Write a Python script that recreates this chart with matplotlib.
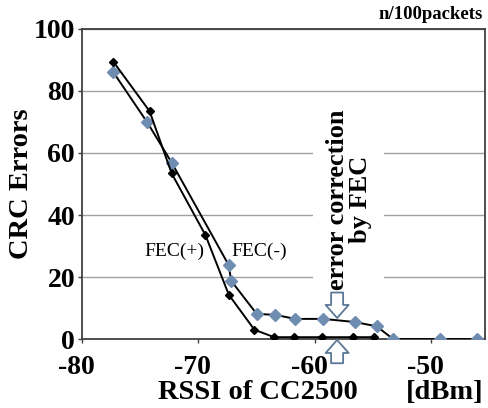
import matplotlib
matplotlib.use('Agg')
import matplotlib.pyplot as plt
from matplotlib.transforms import ScaledTranslation

# FEC(+) : black diamonds
rssi_fec_on = [-77.3, -74.2, -72.3, -69.4, -67.4, -65.2, -63.5, -61.8, -59.4, -56.7, -54.9]
err_fec_on = [89.4, 73.5, 53.4, 33.5, 14.3, 3.0, 0.6, 0.6, 0.6, 0.6, 0.6]

# FEC(-) : blue-grey diamonds
rssi_fec_off = [-77.3, -74.4, -72.3, -67.4, -67.2, -65.0, -63.4, -61.7, -59.3, -56.6, -54.7, -53.3, -49.3, -46.1]
err_fec_off = [86.0, 69.9, 56.9, 23.8, 18.8, 8.1, 7.8, 6.5, 6.5, 5.5, 4.1, 0.0, 0.0, 0.0]

xticks = [-80, -70, -60, -50]
yticks = [0, 20, 40, 60, 80, 100]

plt.rcParams['font.family'] = ['Liberation Serif', 'DejaVu Serif']

fig = plt.figure(figsize=(4.88, 4.08), dpi=100)
ax = fig.add_axes([0.168, 0.169, 0.826, 0.760])

blue = '#6e8db0'
ax.plot(rssi_fec_off, err_fec_off, '-', color='black', lw=1.4, zorder=3)
ax.plot(rssi_fec_off, err_fec_off, 'D', color=blue, ms=6.5, zorder=4)
ax.plot(rssi_fec_on, err_fec_on, '-D', color='black', lw=1.4, ms=4.5, zorder=5)

ax.set_xlim(-80, -45.4)
ax.set_ylim(0, 100)
ax.set_xticks(xticks)
ax.set_yticks(yticks)
ax.set_xticklabels([str(t) for t in xticks])
ax.yaxis.grid(True, color='#a0a0a0', lw=1)
ax.set_axisbelow(True)
for s in ax.spines.values():
    s.set_color('#404040')
    s.set_linewidth(1.3)
ax.tick_params(axis='both', labelsize=20, length=3, width=1, color='#404040')
ax.tick_params(axis='y', pad=2)
ax.tick_params(axis='x', pad=8.5)
shift = ScaledTranslation(-6 / 100, 0, fig.dpi_scale_trans)
for lab in ax.get_xticklabels():
    lab.set_fontweight('bold')
    lab.set_transform(lab.get_transform() + shift)
for lab in ax.get_yticklabels():
    lab.set_fontweight('bold')

ax.set_ylabel('CRC Errors', fontsize=20.5, fontweight='bold', labelpad=0)
fig.text(0.528, 0.037, 'RSSI of CC2500', fontsize=20.5, fontweight='bold', ha='center', va='center')
fig.text(0.99, 0.037, '[dBm]', fontsize=20.5, fontweight='bold', ha='right', va='center')
fig.text(0.99, 0.965, 'n/100packets', fontsize=13.5, fontweight='bold', ha='right', va='center')

ax.text(-72.1, 28.3, 'FEC(+)', fontsize=14, ha='center', va='center', zorder=6)
ax.text(-64.8, 28.3, 'FEC(-)', fontsize=14, ha='center', va='center', zorder=6)

ax.text(-57.1, 45, 'error correction\nby FEC', rotation=90, fontsize=19, fontweight='bold',
        ha='center', va='center', linespacing=1.0, zorder=6,
        bbox=dict(facecolor='white', edgecolor='none', pad=9))

arrow = dict(arrowstyle='simple,head_width=2.3,head_length=1.3,tail_width=1.2',
             fc='white', ec='#5a7896', lw=1.3, mutation_scale=7.2, shrinkA=0, shrinkB=0)
ax.annotate('', xy=(-58.1, 6.8), xytext=(-58.1, 15.0), arrowprops=arrow, zorder=7)
ax.annotate('', xy=(-58.1, -0.3), xytext=(-58.1, -7.8), arrowprops=arrow,
            annotation_clip=False, zorder=7)

fig.savefig('out.png', dpi=100)
